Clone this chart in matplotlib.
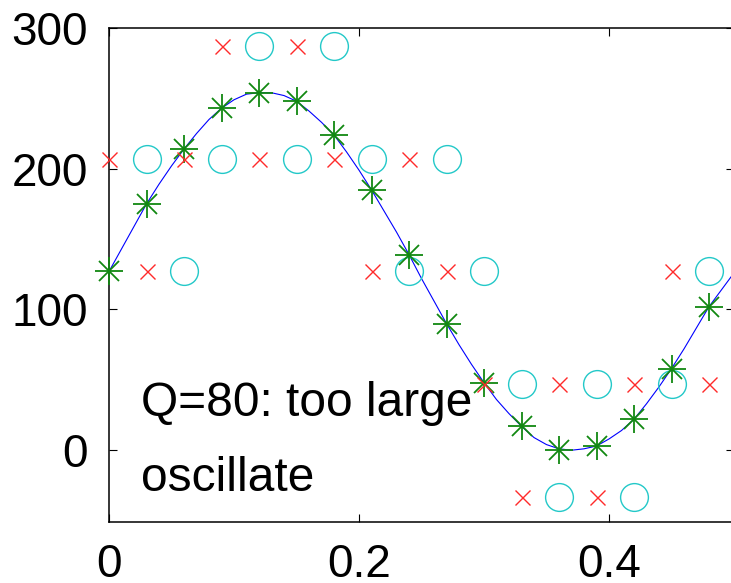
import matplotlib
matplotlib.use("Agg")
import matplotlib.pyplot as plt

plt.rcParams['font.family'] = ['Liberation Sans', 'DejaVu Sans']

# continuous signal (blue line), read at 0.01 steps
line_x = [i / 100 for i in range(51)]
line_y = [127, 143, 159, 175, 189, 202, 214, 225, 235, 243,
          249, 253, 254, 254, 252, 248, 241, 233, 224, 212,
          199, 185, 170, 155, 139, 122, 106, 90, 75, 61,
          48, 36, 26, 17, 9, 4, 1, 0, 1, 3,
          8, 14, 22, 33, 45, 58, 72, 87, 102, 114, 126]

# samples (green asterisks)
sample_x = [0.00, 0.03, 0.06, 0.09, 0.12, 0.15, 0.18, 0.21, 0.24,
            0.27, 0.30, 0.33, 0.36, 0.39, 0.42, 0.45, 0.48]
sample_y = [127, 175, 214, 243, 254, 248, 224, 185, 139,
            90, 48, 17, 0, 3, 22, 58, 102]

# quantized values Q=80 (red x)
quant_y = [207, 127, 207, 287, 207, 287, 207, 127, 207,
           127, 47, -33, 47, -33, 47, 127, 47]

# delayed quantized values (cyan circles)
delay_x = [0.03, 0.06, 0.09, 0.12, 0.15, 0.18, 0.21, 0.24,
           0.27, 0.30, 0.33, 0.36, 0.39, 0.42, 0.45, 0.48]
delay_y = [207, 127, 207, 287, 207, 287, 207, 127,
           207, 127, 47, -33, 47, -33, 47, 127]

xticks = [0, 0.2, 0.4]
xticklabels = ['0', '0.2', '0.4']
yticks = [0, 100, 200, 300]
yticklabels = ['0', '100', '200', '300']

fig = plt.figure(figsize=(7.31, 5.83), dpi=100)
ax = fig.add_axes([109 / 731, 61 / 583, (734 - 109) / 731, (522 - 28) / 583])

ax.plot(line_x, line_y, color='#0000ff', lw=0.8, zorder=2)
ax.plot(delay_x, delay_y, ls='none', marker='o', ms=20, mfc='none',
        mec='#22c8c8', mew=1.0, zorder=3, clip_on=False)
ax.plot(sample_x, sample_y, ls='none', marker='+', ms=19.5,
        mec='#118811', mew=1.3, zorder=4, clip_on=False)
ax.plot(sample_x, sample_y, ls='none', marker='x', ms=13.8,
        mec='#118811', mew=1.3, zorder=4, clip_on=False)
ax.plot(sample_x, quant_y, ls='none', marker='x', ms=10.8,
        mec='#ff2a2a', mew=1.0, zorder=5, clip_on=False)

ax.set_xlim(0, 0.5)
ax.set_ylim(-51, 300)
ax.set_xticks(xticks)
ax.set_xticklabels(xticklabels)
ax.set_yticks(yticks)
ax.set_yticklabels(yticklabels)
ax.tick_params(direction='in', length=5.5, width=0.8, labelsize=33,
               top=True, right=True)
ax.tick_params(axis='x', pad=15)
ax.tick_params(axis='y', pad=15)
for s in ax.spines.values():
    s.set_linewidth(1.1)

ax.text(0.0255, 24, 'Q=80: too large', fontsize=34.5, va='baseline', ha='left')
ax.text(0.0255, -29, 'oscillate', fontsize=34.5, va='baseline', ha='left')

fig.savefig('out.png', dpi=100)
